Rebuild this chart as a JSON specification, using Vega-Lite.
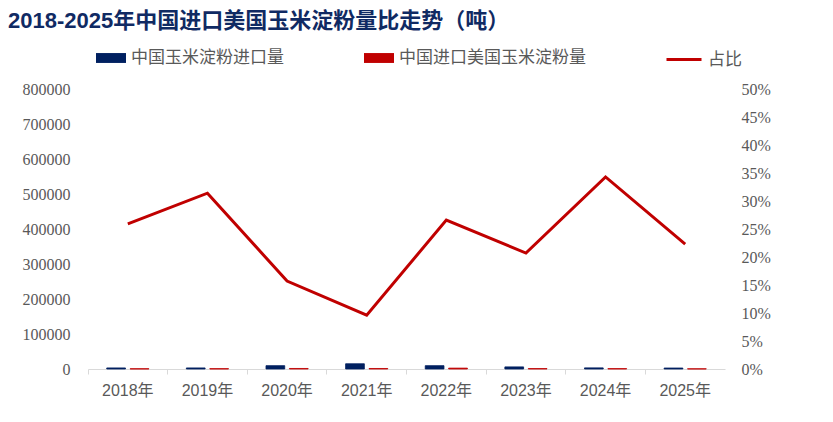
{
  "$schema": "https://vega.github.io/schema/vega-lite/v6.json",
  "width": 637,
  "height": 280,
  "autosize": {"type": "none"},
  "padding": {"left": 88, "top": 89, "right": 108, "bottom": 53},
  "background": "white",
  "title": {
    "text": "2018-2025年中国进口美国玉米淀粉量比走势（吨）",
    "anchor": "start",
    "frame": "group",
    "dx": -80,
    "offset": 8,
    "font": "Liberation Sans, Noto Sans CJK SC",
    "fontSize": 22,
    "fontWeight": "bold",
    "color": "#102A63"
  },
  "datasets": {
    "bars": [
      {"year": "2018年", "series": "中国玉米淀粉进口量", "value": 3000},
      {"year": "2018年", "series": "中国进口美国玉米淀粉量", "value": 777},
      {"year": "2019年", "series": "中国玉米淀粉进口量", "value": 3000},
      {"year": "2019年", "series": "中国进口美国玉米淀粉量", "value": 942},
      {"year": "2020年", "series": "中国玉米淀粉进口量", "value": 9500},
      {"year": "2020年", "series": "中国进口美国玉米淀粉量", "value": 1492},
      {"year": "2021年", "series": "中国玉米淀粉进口量", "value": 15000},
      {"year": "2021年", "series": "中国进口美国玉米淀粉量", "value": 1440},
      {"year": "2022年", "series": "中国玉米淀粉进口量", "value": 9500},
      {"year": "2022年", "series": "中国进口美国玉米淀粉量", "value": 2527},
      {"year": "2023年", "series": "中国玉米淀粉进口量", "value": 6000},
      {"year": "2023年", "series": "中国进口美国玉米淀粉量", "value": 1242},
      {"year": "2024年", "series": "中国玉米淀粉进口量", "value": 3200},
      {"year": "2024年", "series": "中国进口美国玉米淀粉量", "value": 1098},
      {"year": "2025年", "series": "中国玉米淀粉进口量", "value": 2800},
      {"year": "2025年", "series": "中国进口美国玉米淀粉量", "value": 624}
    ],
    "share": [
      {"year": "2018年", "label": "占比", "share": 0.259},
      {"year": "2019年", "label": "占比", "share": 0.314},
      {"year": "2020年", "label": "占比", "share": 0.157},
      {"year": "2021年", "label": "占比", "share": 0.096},
      {"year": "2022年", "label": "占比", "share": 0.266},
      {"year": "2023年", "label": "占比", "share": 0.207},
      {"year": "2024年", "label": "占比", "share": 0.343},
      {"year": "2025年", "label": "占比", "share": 0.223}
    ]
  },
  "layer": [
    {
      "data": {"name": "bars"},
      "mark": {"type": "bar", "strokeWidth": 0.8},
      "encoding": {
        "x": {
          "field": "year", "type": "nominal", "sort": null,
          "scale": {"paddingInner": 0, "paddingOuter": 0},
          "axis": {
            "title": null, "labelAngle": 0, "grid": false,
            "domainColor": "#D9D9D9", "tickColor": "#D9D9D9", "tickSize": 5,
            "bandPosition": 0,
            "labelFont": "Liberation Sans, Noto Sans CJK SC", "labelFontSize": 16,
            "labelColor": "#595959", "labelPadding": 8
          }
        },
        "xOffset": {
          "field": "series", "type": "nominal",
          "sort": ["中国玉米淀粉进口量", "中国进口美国玉米淀粉量"],
          "scale": {"paddingInner": 0.2, "paddingOuter": 0.8}
        },
        "y": {
          "field": "value", "type": "quantitative",
          "scale": {"domain": [0, 800000]},
          "axis": {
            "title": null, "grid": false, "domain": false, "ticks": false,
            "values": [0, 100000, 200000, 300000, 400000, 500000, 600000, 700000, 800000],
            "format": "d",
            "labelFont": "Liberation Serif", "labelFontSize": 16,
            "labelColor": "#595959", "labelPadding": 18
          }
        },
        "fill": {
          "field": "series", "type": "nominal",
          "scale": {"domain": ["中国玉米淀粉进口量", "中国进口美国玉米淀粉量"], "range": ["#002060", "#C00000"]},
          "legend": {
            "orient": "none", "legendX": 8, "legendY": -46,
            "direction": "horizontal", "title": null,
            "symbolType": "M-1,-0.33H1V0.33H-1Z", "symbolSize": 900, "symbolStrokeWidth": 0,
            "labelFont": "Noto Sans CJK SC", "labelFontSize": 17, "labelColor": "#595959",
            "labelOffset": 5, "labelLimit": 0, "columnPadding": 80
          }
        },
        "stroke": {
          "field": "series", "type": "nominal",
          "scale": {"domain": ["中国玉米淀粉进口量", "中国进口美国玉米淀粉量"], "range": ["#002060", "#C00000"]},
          "legend": null
        }
      }
    },
    {
      "data": {"name": "share"},
      "mark": {"type": "line", "strokeWidth": 3},
      "encoding": {
        "x": {"field": "year", "type": "nominal", "sort": null},
        "y": {
          "field": "share", "type": "quantitative",
          "scale": {"domain": [0, 0.5]},
          "axis": {
            "orient": "right", "title": null, "grid": false, "domain": false, "ticks": false,
            "values": [0, 0.05, 0.1, 0.15, 0.2, 0.25, 0.3, 0.35, 0.4, 0.45, 0.5],
            "format": ".0%",
            "labelFont": "Liberation Serif", "labelFontSize": 16,
            "labelColor": "#595959", "labelPadding": 16
          }
        },
        "stroke": {
          "field": "label", "type": "nominal",
          "scale": {"domain": ["占比"], "range": ["#C00000"]},
          "legend": {
            "orient": "none", "legendX": 577, "legendY": -48.5, "title": null,
            "symbolType": "stroke", "symbolSize": 1225, "symbolStrokeWidth": 3,
            "labelFont": "Noto Sans CJK SC", "labelFontSize": 17, "labelColor": "#595959",
            "labelOffset": 5, "labelLimit": 0
          }
        }
      }
    }
  ],
  "resolve": {"scale": {"y": "independent", "stroke": "independent"}},
  "config": {"view": {"stroke": null}}
}
